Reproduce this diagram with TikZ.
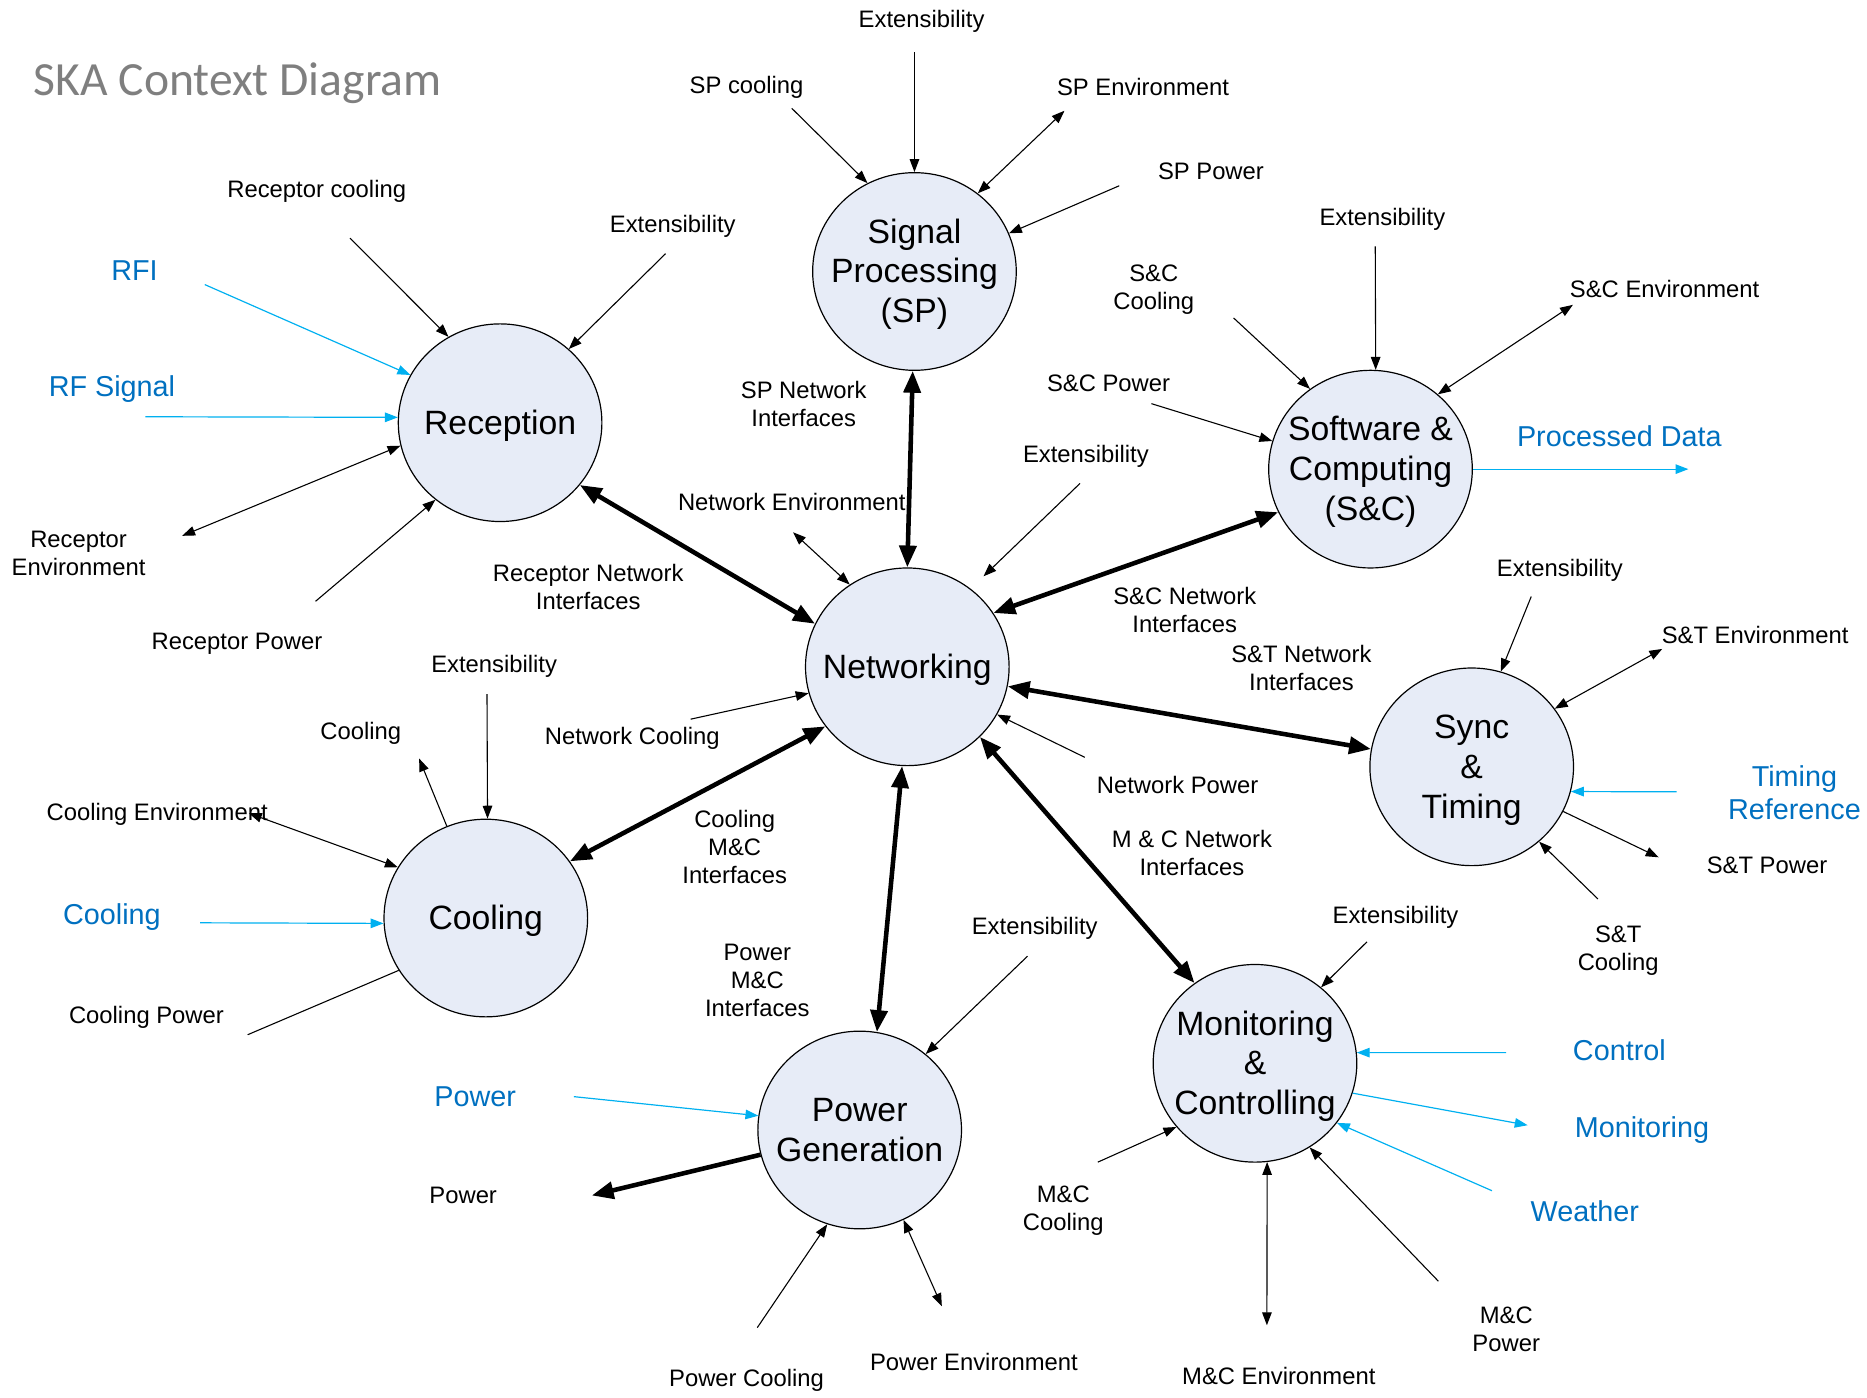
\documentclass[tikz,border=0pt]{standalone}
\usepackage{fontspec}
\setmainfont{Liberation Sans}
\newfontfamily\titlefont{Carlito}
\usetikzlibrary{arrows.meta,shapes.geometric}
\definecolor{bubblefill}{RGB}{231,236,247}
\definecolor{extblue}{RGB}{0,112,192}
\definecolor{extline}{RGB}{0,176,240}
\definecolor{titlegray}{RGB}{127,127,127}
% centred lines that do not widen the ellipse around them, set slightly low
\newcommand\bubtext[1]{\raisebox{-1.8pt}[\height][\depth]{\makebox[0pt]{\begin{tabular}{@{}c@{}}#1\end{tabular}}}}
\begin{document}
\begin{tikzpicture}[x=0.6pt,y=-0.6pt,
  bubble/.style={ellipse, draw, line width=0.6pt, fill=bubblefill,
    minimum width=102.6pt, minimum height=99.6pt, inner sep=0pt,
    font=\fontsize{17}{20}\selectfont},
  lbl/.style={inner sep=0pt, align=center, font=\fontsize{12}{14.1}\selectfont},
  blbl/.style={inner sep=0pt, align=center, text=extblue,
    font=\fontsize{14.5}{16.8}\selectfont},
  thinarr/.style={line width=0.55pt, -{Triangle[length=6.5pt,width=4.8pt]}},
  thinboth/.style={line width=0.55pt,
    {Triangle[length=6.5pt,width=4.8pt]}-{Triangle[length=6.5pt,width=4.8pt]}},
  plainline/.style={line width=0.55pt},
  bluearr/.style={line width=0.6pt, draw=extline,
    -{Triangle[length=6.5pt,width=4.8pt]}},
  thickboth/.style={line width=2.3pt,
    {Triangle[length=11pt,width=8.5pt]}-{Triangle[length=11pt,width=8.5pt]}},
  thickarr/.style={line width=2.3pt, -{Triangle[length=11pt,width=8.5pt]}}
]
\useasboundingbox (0,0) rectangle (1568,1174);

% title
\node[anchor=base west, inner sep=0pt, text=titlegray,
  font=\titlefont\fontsize{24}{28}\selectfont] (title) at (28,80) {SKA Context Diagram};

% subsystems
\node[bubble] (R)  at (420,355) {\bubtext{Reception}};
\node[bubble] (SP) at (768,228) {\bubtext{Signal\\Processing\\(SP)}};
\node[bubble] (SC) at (1151,394) {\bubtext{Software \&\\Computing\\(S\&C)}};
\node[bubble] (N)  at (762,560) {\bubtext{Networking}};
\node[bubble] (ST) at (1236,644) {\bubtext{Sync\\\&\\Timing}};
\node[bubble] (C)  at (408,771) {\bubtext{Cooling}};
\node[bubble] (PG) at (722,949) {\bubtext{Power\\Generation}};
\node[bubble] (MC) at (1054,893) {\bubtext{Monitoring\\\&\\Controlling}};

% free ends of the external flows
\coordinate (rc) at (294,200);    \coordinate (rx) at (559,213);
\coordinate (rfi) at (172,239);   \coordinate (rfs) at (122,350);
\coordinate (renv) at (153,450);  \coordinate (rpow) at (265,505);
\coordinate (spx) at (768,44);    \coordinate (spc) at (665,91);
\coordinate (spenv) at (894,93);  \coordinate (sppow) at (940,156);
\coordinate (scx) at (1155,207);  \coordinate (scc) at (1036,267);
\coordinate (scenv) at (1321,256);\coordinate (scpow) at (967,339);
\coordinate (pdata) at (1418,394);
\coordinate (nenv) at (666,447);  \coordinate (nx1) at (907,406);
\coordinate (nx2) at (826,484);   \coordinate (ncool) at (580,604);
\coordinate (npow) at (911,636);
\coordinate (stx) at (1286,501);  \coordinate (stenv) at (1396,545);
\coordinate (tref) at (1408,665); \coordinate (stpow) at (1393,720);
\coordinate (stcool) at (1342,755);
\coordinate (cx) at (409,583);    \coordinate (cout) at (352,637);
\coordinate (cenv) at (209,683);  \coordinate (cblue) at (168,775);
\coordinate (cpow) at (208,869);
\coordinate (pgx) at (863,803);   \coordinate (pgblue) at (482,921);
\coordinate (pgout) at (497,1004);\coordinate (pgcool) at (636,1115);
\coordinate (pgenv) at (791,1097);
\coordinate (mcx) at (1148,791);  \coordinate (ctrl) at (1265,884);
\coordinate (mon) at (1283,945);  \coordinate (wea) at (1253,1000);
\coordinate (mcpow) at (1208,1076);\coordinate (mcenv) at (1064,1113);
\coordinate (mccool) at (922,976);

% labels
\node[lbl] (lspx) at (774,18) {Extensibility};
\node[lbl] (lspc) at (627,73) {SP cooling};
\node[lbl] (lspenv) at (960,73) {SP Environment};
\node[lbl] (lsppow) at (1017,144) {SP Power};
\node[lbl] (lrc) at (266,161) {Receptor cooling};
\node[lbl] (lrx) at (565,190) {Extensibility};
\node[blbl] (lrfi) at (113,227) {RFI};
\node[blbl] (lrfs) at (94,327) {RF Signal};
\node[lbl] (lrenv) at (66,465) {Receptor\\Environment};
\node[lbl] (lrpow) at (199,541) {Receptor Power};
\node[lbl] (lrni) at (494,493) {Receptor Network\\Interfaces};
\node[lbl] (lspni) at (675,339) {SP Network\\Interfaces};
\node[lbl] (lnenv) at (665,422) {Network Environment};
\node[lbl] (lnx) at (912,383) {Extensibility};
\node[lbl] (lscc) at (969,243) {S\&C\\Cooling};
\node[lbl] (lscpow) at (931,322) {S\&C Power};
\node[lbl] (lscx) at (1161,184) {Extensibility};
\node[lbl] (lscenv) at (1398,243) {S\&C Environment};
\node[blbl] (lpdata) at (1360,366) {Processed Data};
\node[lbl] (lscni) at (995,512) {S\&C Network\\Interfaces};
\node[lbl] (lstni) at (1093,561) {S\&T Network\\Interfaces};
\node[lbl] (lstx) at (1310,479) {Extensibility};
\node[lbl] (lstenv) at (1474,533) {S\&T Environment};
\node[blbl] (ltref) at (1507,666) {Timing\\Reference};
\node[lbl] (lstpow) at (1484,727) {S\&T Power};
\node[lbl] (lstcool) at (1359,798) {S\&T\\Cooling};
\node[lbl] (lnpow) at (989,659) {Network Power};
\node[lbl] (lmcni) at (1001,716) {M \& C Network\\Interfaces};
\node[lbl] (lcx) at (415,560) {Extensibility};
\node[lbl] (lcout) at (303,616) {Cooling};
\node[lbl] (lncool) at (531,620) {Network Cooling};
\node[lbl] (lcenv) at (132,684) {Cooling Environment};
\node[blbl] (lcblue) at (94,770) {Cooling};
\node[lbl] (lcpow) at (123,854) {Cooling Power};
\node[lbl] (lcmc) at (617,711) {Cooling\\M\&C\\Interfaces};
\node[lbl] (lpgx) at (869,780) {Extensibility};
\node[lbl] (lpgmc) at (636,823) {Power\\M\&C\\Interfaces};
\node[blbl] (lpgblue) at (399,921) {Power};
\node[lbl] (lpgout) at (389,1004) {Power};
\node[lbl] (lpgcool) at (627,1159) {Power Cooling};
\node[lbl] (lpgenv) at (818,1144) {Power Environment};
\node[lbl] (lmcx) at (1172,770) {Extensibility};
\node[blbl] (lctrl) at (1360,882) {Control};
\node[blbl] (lmon) at (1379,949) {Monitoring};
\node[blbl] (lwea) at (1331,1017) {Weather};
\node[lbl] (lmccool) at (893,1017) {M\&C\\Cooling};
\node[lbl] (lmcpow) at (1265,1116) {M\&C\\Power};
\node[lbl] (lmcenv) at (1074,1156) {M\&C Environment};

% network interfaces
\draw[thickboth] (R.-38) -- (N.155);
\draw[thickboth] (SP.-91) -- (N.90);
\draw[thickboth] (N.32) -- (SC.205);
\draw[thickboth] (N.-11) -- (ST.170);
\draw[thickboth] (N.-44) -- (MC.127);
\draw[thickboth] (N.216) -- (C.34);
\draw[thickboth] (N.267) -- (PG.80);

% Reception
\draw[thinarr] (rc) -- (R.121);
\draw[thinarr] (rx) -- (R.47);
\draw[bluearr] (rfi) -- (R.152);
\draw[bluearr] (rfs) -- (R.177);
\draw[thinboth] (R.193) -- (renv);
\draw[thinarr] (rpow) -- (R.230);

% Signal Processing
\draw[thinarr] (spx) -- (SP.90);
\draw[thinarr] (spc) -- (SP.118);
\draw[thinboth] (SP.51) -- (spenv);
\draw[thinarr] (sppow) -- (SP.22);

% Software & Computing
\draw[thinarr] (scx) -- (SC.87);
\draw[thinarr] (scc) -- (SC.127);
\draw[thinboth] (SC.48) -- (scenv);
\draw[thinarr] (scpow) -- (SC.164);
\draw[bluearr] (SC.0) -- (pdata);

% Networking
\draw[thinboth] (nenv) -- (N.125);
\draw[thinarr] (nx1) -- (nx2);
\draw[thinarr] (ncool) -- (N.195);
\draw[thinarr] (npow) -- (N.-28);

% Sync & Timing
\draw[thinarr] (stx) -- (ST.73);
\draw[thinboth] (ST.35) -- (stenv);
\draw[bluearr] (tref) -- (ST.-14);
\draw[thinarr] (ST.-26) -- (stpow);
\draw[thinarr] (stcool) -- (ST.-48);

% Cooling
\draw[thinarr] (cx) -- (C.89);
\draw[thinarr] (C.113) -- (cout);
\draw[thinboth] (cenv) -- (C.150);
\draw[bluearr] (cblue) -- (C.183);
\draw[plainline] (cpow) -- (C.211);

% Power Generation
\draw[thinarr] (pgx) -- (PG.49);
\draw[bluearr] (pgblue) -- (PG.172);
\draw[thickarr] (PG.194) -- (pgout);
\draw[thinarr] (pgcool) -- (PG.251);
\draw[thinboth] (PG.-64) -- (pgenv);

% Monitoring & Controlling
\draw[thinarr] (mcx) -- (MC.49);
\draw[bluearr] (ctrl) -- (MC.6);
\draw[bluearr] (MC.-17) -- (mon);
\draw[bluearr] (wea) -- (MC.-36);
\draw[thinarr] (mcpow) -- (MC.-57);
\draw[thinboth] (MC.-83) -- (mcenv);
\draw[thinarr] (mccool) -- (MC.219);
\end{tikzpicture}
\end{document}
